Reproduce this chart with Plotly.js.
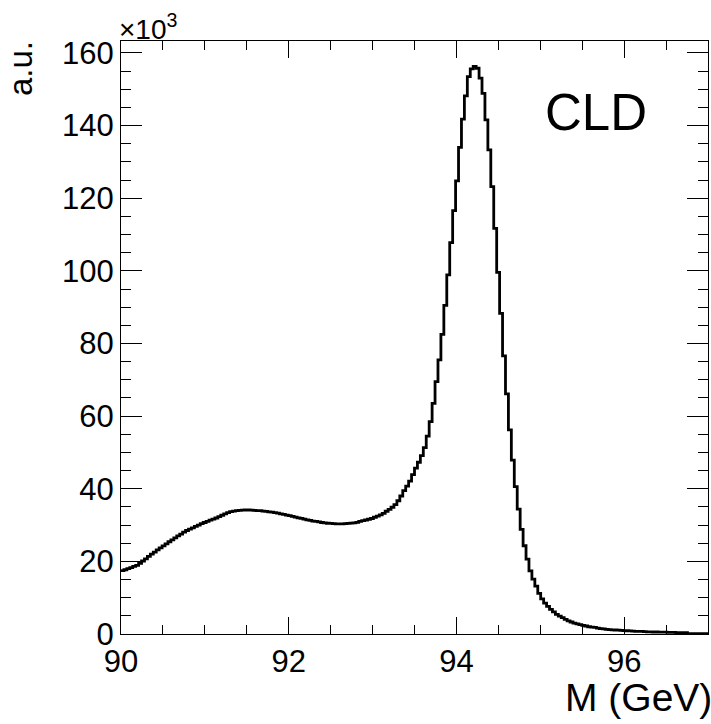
<!DOCTYPE html>
<html>
<head>
<meta charset="utf-8">
<script src="https://cdn.plot.ly/plotly-3.0.1.min.js"></script>
<style>html,body{margin:0;padding:0;background:#fff;}#chart{width:711px;height:724px;}</style>
</head>
<body>
<div id="chart"></div>
<script>
// Histogram: 200 bins from 90 to 97 GeV, contents in units of 10^3
const binLow = 90;
const binHigh = 97;
const counts = [
  17.45, 17.7, 18.0, 18.3, 18.6, 18.9, 19.45, 20.1, 20.7, 21.35,
  22.0, 22.55, 23.15, 23.7, 24.25, 24.8, 25.4, 25.9, 26.45, 27.0,
  27.5, 28.05, 28.5, 28.9, 29.25, 29.65, 30.0, 30.4, 30.7, 31.0,
  31.35, 31.65, 31.95, 32.3, 32.7, 33.1, 33.45, 33.7, 33.85, 33.95,
  34.05, 34.1, 34.15, 34.15, 34.1, 34.05, 34.0, 33.95, 33.85, 33.75,
  33.65, 33.55, 33.45, 33.3, 33.1, 32.95, 32.75, 32.6, 32.4, 32.2,
  32.0, 31.85, 31.65, 31.45, 31.3, 31.1, 31.0, 30.85, 30.7, 30.6,
  30.5, 30.45, 30.4, 30.35, 30.35, 30.3, 30.4, 30.45, 30.55, 30.6,
  30.75, 31.0, 31.2, 31.4, 31.6, 31.8, 32.15, 32.45, 32.8, 33.2,
  33.8, 34.3, 34.9, 35.6, 36.7, 38.0, 39.5, 40.7, 42.1, 43.9,
  45.7, 47.3, 49.1, 51.3, 54.5, 58.5, 63.5, 69.5, 75.5, 82.5,
  90.5, 98.9, 107.8, 116.6, 124.8, 134.0, 141.8, 148.2, 153.5, 155.6,
  156.3, 155.8, 153.1, 148.9, 141.6, 133.3, 123.2, 111.7, 99.6, 88.3,
  76.6, 66.1, 56.2, 47.9, 40.6, 34.4, 28.8, 24.3, 20.6, 17.4,
  15.1, 13.2, 11.2, 9.7, 8.5, 7.6, 6.8, 6.1, 5.4, 4.9,
  4.5, 4.0, 3.6, 3.3, 3.0, 2.8, 2.6, 2.4, 2.2, 2.0,
  1.9, 1.8, 1.6, 1.5, 1.4, 1.3, 1.2, 1.15, 1.1, 1.05,
  1.0, 0.95, 0.9, 0.85, 0.8, 0.75, 0.7, 0.7, 0.65, 0.6,
  0.6, 0.55, 0.55, 0.5, 0.5, 0.5, 0.45, 0.45, 0.45, 0.4,
  0.4, 0.4, 0.35, 0.1, 0.1, 0.1, 0.1, 0.1, 0.1, 0.1
];
const xTitle = "M (GeV)";
const yTitle = "a.u.";
const label = "CLD";
const expLabel = "×10<sup>3</sup>";

const nBins = counts.length;
const w = (binHigh - binLow) / nBins;
const xs = [], ys = [];
for (let i = 0; i < nBins; i++) { xs.push(binLow + i * w); ys.push(counts[i]); }
xs.push(binHigh); ys.push(counts[nBins - 1]);

const FONT = "Liberation Sans, Arial, Helvetica, sans-serif";

const trace = {
  x: xs, y: ys, type: "scatter", mode: "lines",
  line: {shape: "hv", color: "black", width: 2.8},
  hoverinfo: "skip", showlegend: false
};

const layout = {
  width: 711, height: 724,
  margin: {l: 121, r: 3, t: 41, b: 90, pad: 0},
  paper_bgcolor: "white", plot_bgcolor: "white",
  font: {family: FONT, color: "black"},
  showlegend: false,
  xaxis: {
    range: [binLow, binHigh], tick0: 90, dtick: 2,
    ticks: "inside", ticklen: 17, tickwidth: 1, tickcolor: "black",
    showline: true, linecolor: "black", linewidth: 1, mirror: "allticks",
    showgrid: false, zeroline: false,
    tickfont: {family: FONT, size: 31, color: "black"},
    minor: {dtick: 0.5, ticks: "inside", ticklen: 9, tickwidth: 1, tickcolor: "black", showgrid: false}
  },
  yaxis: {
    range: [0, 163.3], tick0: 0, dtick: 20,
    ticks: "inside", ticklen: 21, tickwidth: 1, tickcolor: "black",
    showline: true, linecolor: "black", linewidth: 1, mirror: "allticks",
    showgrid: false, zeroline: false,
    tickfont: {family: FONT, size: 31, color: "black"},
    minor: {dtick: 5, ticks: "inside", ticklen: 10, tickwidth: 1, tickcolor: "black", showgrid: false}
  },
  annotations: [
    {text: xTitle, xref: "paper", yref: "paper", x: 1, y: 0, xanchor: "right", yanchor: "top",
     xshift: 6, yshift: -40, showarrow: false, font: {family: FONT, size: 39, color: "black"}},
    {text: yTitle, xref: "paper", yref: "paper", x: 0, y: 1, xanchor: "right", yanchor: "top",
     xshift: -80, yshift: 2, textangle: -90, showarrow: false, font: {family: FONT, size: 33, color: "black"}},
    {text: expLabel, xref: "paper", yref: "paper", x: 0, y: 1, xanchor: "left", yanchor: "bottom",
     xshift: -4, yshift: -6, showarrow: false, font: {family: FONT, size: 28, color: "black"}},
    {text: label, xref: "paper", yref: "paper", x: 0.9, y: 0.88, xanchor: "right", yanchor: "middle",
     xshift: 0, showarrow: false, font: {family: FONT, size: 51, color: "black"}}
  ]
};

Plotly.newPlot("chart", [trace], layout, {staticPlot: true, displayModeBar: false});
</script>
</body>
</html>
